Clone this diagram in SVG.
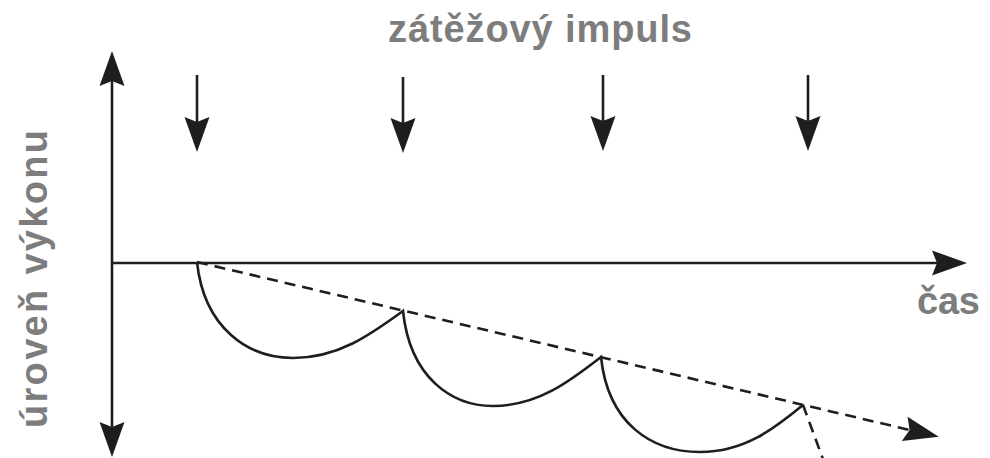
<svg xmlns="http://www.w3.org/2000/svg" width="990" height="458" viewBox="0 0 990 458">
<style>
.ln{stroke:#1e1e1e;stroke-width:2.6;fill:none}
.dash{stroke-dasharray:11 7}
.lbl{font-family:"Liberation Sans",Arial,sans-serif;font-weight:bold;fill:#7d7d7d;font-size:38px}
</style>
<defs>
<marker id="ah" markerUnits="userSpaceOnUse" viewBox="-30 -14 40 28" markerWidth="40" markerHeight="28" refX="0" refY="0" orient="auto-start-reverse" overflow="visible">
<path d="M8,0 L-27,-12.5 L-22,0 L-27,12.5 Z" fill="#1e1e1e"/>
</marker>
</defs>
<rect width="990" height="458" fill="#fff"/>
<g id="axes">
<line id="y-axis" class="ln" x1="112" y1="449" x2="112" y2="59" marker-start="url(#ah)" marker-end="url(#ah)"/>
<line id="x-axis" class="ln" x1="112" y1="263" x2="959" y2="263" marker-end="url(#ah)"/>
</g>
<g id="impulses">
<line class="ln" x1="197" y1="75" x2="197" y2="144" marker-end="url(#ah)"/>
<line class="ln" x1="403" y1="77" x2="403" y2="145" marker-end="url(#ah)"/>
<line class="ln" x1="603" y1="75" x2="603" y2="143" marker-end="url(#ah)"/>
<line class="ln" x1="808" y1="75" x2="808" y2="143" marker-end="url(#ah)"/>
</g>
<g id="curve">
<path class="ln" d="M197,262 C204,328 248,358 293,358 C338,358 370,335 403,311 C410,378 452,406 493,406 C538,406 570,381 601,357 C608,424 652,452 700,452 C745,452 775,428 803,405"/>
<path class="ln dash" d="M803,405 L827,470"/>
</g>
<g id="trend">
<line class="ln dash" x1="197" y1="262" x2="931" y2="435" marker-end="url(#ah)"/>
</g>
<g id="labels">
<text class="lbl" x="388" y="42" textLength="304" lengthAdjust="spacing">zátěžový impuls</text>
<text class="lbl" x="917" y="314" textLength="63" lengthAdjust="spacing">čas</text>
<text class="lbl" transform="translate(47,428) rotate(-90)" textLength="298" lengthAdjust="spacing">úroveň výkonu</text>
</g>
</svg>
